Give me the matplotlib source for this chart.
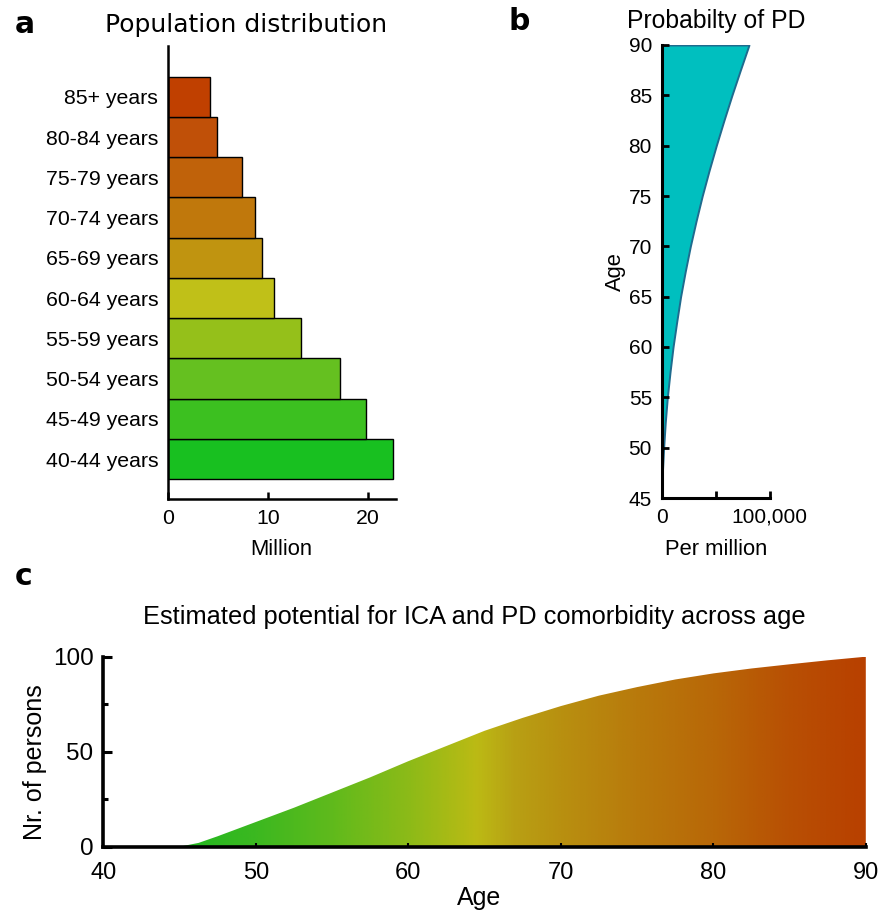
import numpy as np
import matplotlib
matplotlib.use("Agg")
import matplotlib.pyplot as plt
from matplotlib.colors import LinearSegmentedColormap, Normalize
from matplotlib.patches import Polygon

# ---------------- data ----------------
age_groups = ["40-44 years", "45-49 years", "50-54 years", "55-59 years", "60-64 years",
              "65-69 years", "70-74 years", "75-79 years", "80-84 years", "85+ years"]
population_million = [22.5, 19.8, 17.2, 13.3, 10.6, 9.45, 8.75, 7.45, 4.9, 4.25]
bar_colors = ["#18C020", "#3CC020", "#65C020", "#95C01A", "#C0C018",
              "#C09410", "#C0780C", "#C0620A", "#C05008", "#C04000"]

pd_ages = [45, 47.5, 50, 52.5, 55, 57.5, 60, 62.5, 65, 67.5, 70, 72.5, 75,
           77.5, 80, 82.5, 85, 87.5, 90]
pd_per_million = [0, 600, 1800, 3300, 5200, 7700, 10500, 13900, 17500, 21800, 26500,
                  31800, 37500, 43800, 50500, 57600, 65000, 72800, 80800]

c_ages = [40, 45, 46.25, 47.5, 50, 52.5, 55, 57.5, 60, 62.5, 65, 67.5, 70, 72.5, 75,
          77.5, 80, 82.5, 85, 87.5, 90]
c_persons = [0, 0, 2, 5.5, 13, 20.5, 28.5, 36.5, 45, 53, 61, 67.8, 74, 79.5, 84,
             88, 91.2, 93.8, 96, 98.1, 100]
grad_ages = [40, 45, 50, 55, 60, 64.5, 67, 70, 75, 80, 85, 90]
grad_colors = ["#18B820", "#20B820", "#3CB820", "#60BA1C", "#8CBA18", "#BCBA14",
               "#B8A014", "#B89010", "#B87A0C", "#B86808", "#B85004", "#B84000"]

W, H = 879, 910
fig = plt.figure(figsize=(W / 100, H / 100), dpi=100)
SANS = ["Liberation Sans", "DejaVu Sans"]
plt.rcParams["font.family"] = SANS


def fx(px):
    return px / W


def fy(py):
    return 1 - py / H


# ---------------- panel a ----------------
axa = fig.add_axes([fx(167.7), fy(499.3), (395.7 - 167.7) / W, (499.3 - 45.7) / H])
ypos = np.arange(len(age_groups))
axa.barh(ypos, population_million, height=1.0, color=bar_colors,
         edgecolor="black", linewidth=1.0, zorder=2)
axa.set_xlim(0, 22.75)
axa.set_ylim(-1.0, 10.27)
axa.set_yticks(ypos)
axa.set_yticklabels(age_groups, fontsize=15.3)
axa.tick_params(axis="y", length=0, pad=6.8)
axa.set_xticks([0, 10, 20])
axa.tick_params(axis="x", direction="in", length=5, width=1.8, labelsize=15.3, pad=7)
for s in ["top", "right"]:
    axa.spines[s].set_visible(False)
for s in ["left", "bottom"]:
    axa.spines[s].set_linewidth(1.8)
axa.set_xlabel("Million", fontsize=15.8)
axa.xaxis.label.set_va("baseline")
axa.xaxis.set_label_coords(0.5, (499.3 - 555) / (499.3 - 45.7))

fig.text(fx(246), fy(31.7), "Population distribution", ha="center", va="baseline",
         fontsize=18, family="DejaVu Sans")
fig.text(fx(15), fy(33), "a", ha="left", va="baseline", fontsize=21.5,
         fontweight="bold", family="DejaVu Sans")

# ---------------- panel b ----------------
axb = fig.add_axes([fx(661.7), fy(498), 108 / W, (498 - 45) / H])
axb.fill_betweenx(pd_ages, 0, pd_per_million, facecolor="#00BFBF",
                  edgecolor="#1F6B8E", linewidth=1.4, zorder=1)
axb.set_xlim(0, 100000)
axb.set_ylim(45, 90)
axb.set_yticks(np.arange(45, 91, 5))
axb.set_xticks([0, 50000, 100000])
axb.set_xticklabels(["0", "", "100,000"])
axb.tick_params(axis="both", direction="in", length=5, width=2, labelsize=15, pad=7)
for s in ["top", "right"]:
    axb.spines[s].set_visible(False)
for s in ["left", "bottom"]:
    axb.spines[s].set_linewidth(2.2)
axb.set_xlabel("Per million", fontsize=15.8)
axb.xaxis.label.set_va("baseline")
axb.xaxis.set_label_coords(0.5, (498 - 555) / (498 - 45))
axb.set_ylabel("Age", fontsize=15.8)
axb.yaxis.set_label_coords((626 - 661.7) / 108, 0.5)

fig.text(fx(716), fy(28), "Probabilty of PD", ha="center", va="baseline", fontsize=17.8)
fig.text(fx(509), fy(30), "b", ha="left", va="baseline", fontsize=21.5,
         fontweight="bold", family="DejaVu Sans")

# ---------------- panel c ----------------
axc = fig.add_axes([fx(103.3), fy(846.7), (865.8 - 103.3) / W, (846.7 - 656.7) / H])
cmap = LinearSegmentedColormap.from_list(
    "agegrad", [((a - 40) / 50, c) for a, c in zip(grad_ages, grad_colors)])
grad = np.linspace(40, 90, 600).reshape(1, -1)
im = axc.imshow(grad, extent=[40, 90, 0, 100], aspect="auto", origin="lower",
                cmap=cmap, norm=Normalize(40, 90), zorder=1, interpolation="bilinear")
verts = list(zip(c_ages, c_persons)) + [(c_ages[-1], 0), (c_ages[0], 0)]
poly = Polygon(verts, closed=True, facecolor="none", edgecolor="none")
axc.add_patch(poly)
im.set_clip_path(poly)
axc.set_xlim(40, 90)
axc.set_ylim(0, 100)
axc.set_xticks(np.arange(40, 91, 10))
axc.set_yticks([0, 50, 100])
axc.set_yticks([25, 75], minor=True)
axc.tick_params(axis="x", direction="in", length=3, width=1.5, labelsize=17, pad=11.2)
axc.tick_params(axis="y", which="major", direction="in", length=6.5, width=2.2,
                labelsize=17.5, pad=7)
axc.tick_params(axis="y", which="minor", direction="in", length=3.5, width=2.2)
for s in ["top", "right"]:
    axc.spines[s].set_visible(False)
for s in ["left", "bottom"]:
    axc.spines[s].set_linewidth(2.6)
axc.set_xlabel("Age", fontsize=18)
axc.xaxis.label.set_va("baseline")
axc.xaxis.set_label_coords((479 - 103.3) / 762.5, (846.7 - 905) / 190)
axc.set_ylabel("Nr. of persons", fontsize=18)
axc.yaxis.set_label_coords((47 - 103.3) / 762.5, (846.7 - 762) / 190)

fig.text(fx(474), fy(624), "Estimated potential for ICA and PD comorbidity across age",
         ha="center", va="baseline", fontsize=18.3)
fig.text(fx(15), fy(585), "c", ha="left", va="baseline", fontsize=21.5,
         fontweight="bold", family="DejaVu Sans")

fig.savefig("out.png", dpi=100)
